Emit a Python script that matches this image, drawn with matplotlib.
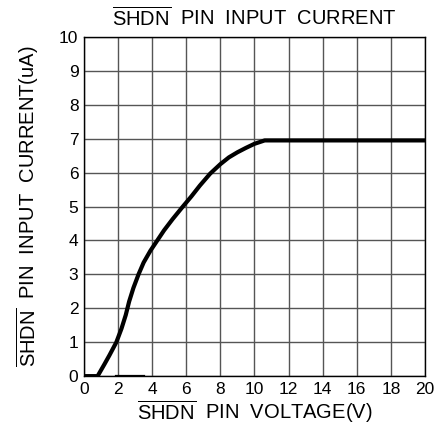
import numpy as np
import matplotlib
matplotlib.use('Agg')
import matplotlib.pyplot as plt

plt.rcParams['font.family'] = 'Liberation Sans'
plt.rcParams['mathtext.fontset'] = 'custom'
plt.rcParams['mathtext.rm'] = 'Liberation Sans'

# SHDN pin current vs. SHDN pin voltage
voltage = [0, 0.8, 1.2, 1.5, 1.9, 2.2, 2.45, 2.65, 2.9, 3.2, 3.5, 3.9, 4.3,
           4.7, 5.2, 5.8, 6.3, 6.8, 7.4, 8.0, 8.5, 9.0, 9.5, 10.0, 10.6, 20]
current = [0, 0, 0.35, 0.62, 1.0, 1.4, 1.8, 2.2, 2.6, 3.0, 3.35, 3.7, 4.0,
           4.3, 4.63, 5.0, 5.3, 5.62, 5.97, 6.25, 6.45, 6.6, 6.73, 6.85, 6.95, 6.95]

# small stray segment drawn along the x axis in the original
stray_x = [1.9, 3.5]
stray_y = [0, 0]

x_ticks = np.arange(0, 21, 2)
y_ticks = np.arange(0, 11, 1)

fig = plt.figure(figsize=(4.35, 4.25), dpi=100)
ax = fig.add_axes([0.193, 0.115, 0.784, 0.798])

ax.plot(voltage, current, '-k', lw=3, solid_joinstyle='round', zorder=3)
ax.plot(stray_x, stray_y, '-k', lw=1.6, zorder=3)

ax.set_xlim(0, 20)
ax.set_ylim(0, 10)
ax.set_xticks(x_ticks)
ax.set_yticks(y_ticks)
ax.tick_params(length=0, labelsize=12.5, pad=4)
ax.grid(True, color='#555555', lw=1.0)
for s in ax.spines.values():
    s.set_color('black')
    s.set_linewidth(1.0)

ax.set_title(r'$\overline{\mathrm{SHDN}}$  PIN  INPUT  CURRENT', fontsize=14.5, pad=8)
ax.set_xlabel(r'$\overline{\mathrm{SHDN}}$  PIN  VOLTAGE(V)', fontsize=14.5, labelpad=1)
ax.set_ylabel(r'$\overline{\mathrm{SHDN}}$  PIN  INPUT  CURRENT(uA)', fontsize=14.5, labelpad=13)

fig.savefig('out.png', dpi=100)
